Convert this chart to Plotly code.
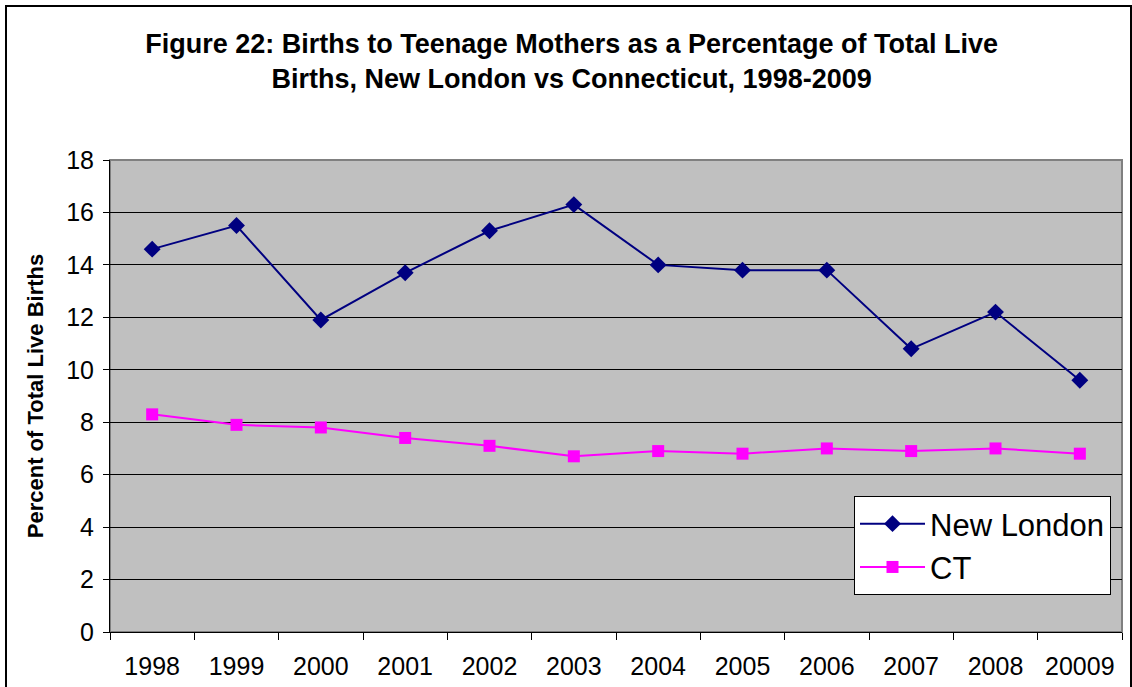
import plotly.graph_objects as go

years = ["1998", "1999", "2000", "2001", "2002", "2003", "2004", "2005", "2006", "2007", "2008", "20009"]
new_london = [14.6, 15.5, 11.9, 13.7, 15.3, 16.3, 14.0, 13.8, 13.8, 10.8, 12.2, 9.6]
ct = [8.3, 7.9, 7.8, 7.4, 7.1, 6.7, 6.9, 6.8, 7.0, 6.9, 7.0, 6.8]

W, H = 1132, 687
L, R, T, B = 110, 10, 160, 55
pw, ph = W - L - R, H - T - B

def px_to_paper_x(px):
    return (px - L) / pw

def px_to_paper_y(py):
    return (H - B - py) / ph

fig = go.Figure()
fig.add_trace(go.Scatter(
    x=years, y=new_london, name="New London", mode="lines+markers",
    line=dict(color="#000080", width=2),
    marker=dict(symbol="diamond", size=13, color="#000080"),
))
fig.add_trace(go.Scatter(
    x=years, y=ct, name="CT", mode="lines+markers",
    line=dict(color="#FF00FF", width=2),
    marker=dict(symbol="square", size=12, color="#FF00FF"),
))

font_family = "Liberation Sans, Arial, sans-serif"

fig.update_layout(
    width=W, height=H,
    margin=dict(l=L, r=R, t=T, b=B, autoexpand=False),
    paper_bgcolor="white",
    plot_bgcolor="#C0C0C0",
    font=dict(family=font_family, color="black", size=25),
    title=dict(
        text="<b>Figure 22: Births to Teenage Mothers as a Percentage of Total Live<br>Births, New London vs Connecticut, 1998-2009</b>",
        x=0.505, xanchor="center", y=1 - 53 / H, yanchor="middle",
        font=dict(size=27, family=font_family, color="black"),
    ),
    showlegend=True,
    legend=dict(
        x=px_to_paper_x(854), y=px_to_paper_y(496), xanchor="left", yanchor="top",
        bgcolor="white", bordercolor="black", borderwidth=1,
        font=dict(size=31, family=font_family, color="black"),
        itemwidth=65,
    ),
    xaxis=dict(
        type="category", range=[-0.5, len(years) - 0.5],
        showgrid=False, showline=True, linecolor="black", linewidth=1,
        ticks="outside", tickson="boundaries", ticklen=7, tickcolor="black",
        tickfont=dict(size=25), ticklabelstandoff=12, zeroline=False, mirror=False,
    ),
    yaxis=dict(
        range=[0, 18], dtick=2, showgrid=True, gridcolor="black", gridwidth=1,
        showline=True, linecolor="black", linewidth=1,
        ticks="outside", ticklen=6, tickcolor="black", tickfont=dict(size=25),
        ticklabelstandoff=4, zeroline=False,
        title=dict(text="<b>Percent of Total Live Births</b>", font=dict(size=22), standoff=16),
    ),
    shapes=[
        dict(type="rect", xref="paper", yref="paper", x0=0, x1=1, y0=0, y1=1,
             line=dict(color="#808080", width=2), layer="below"),
        dict(type="rect", xref="paper", yref="paper",
             x0=px_to_paper_x(6), x1=px_to_paper_x(1131), y0=px_to_paper_y(700), y1=px_to_paper_y(6),
             line=dict(color="black", width=2), fillcolor="rgba(0,0,0,0)", layer="above"),
    ],
)

fig.write_html(
    "out.html",
    config={"displayModeBar": False},
    post_script="document.body.style.margin='0';document.body.style.overflow='hidden';",
)
